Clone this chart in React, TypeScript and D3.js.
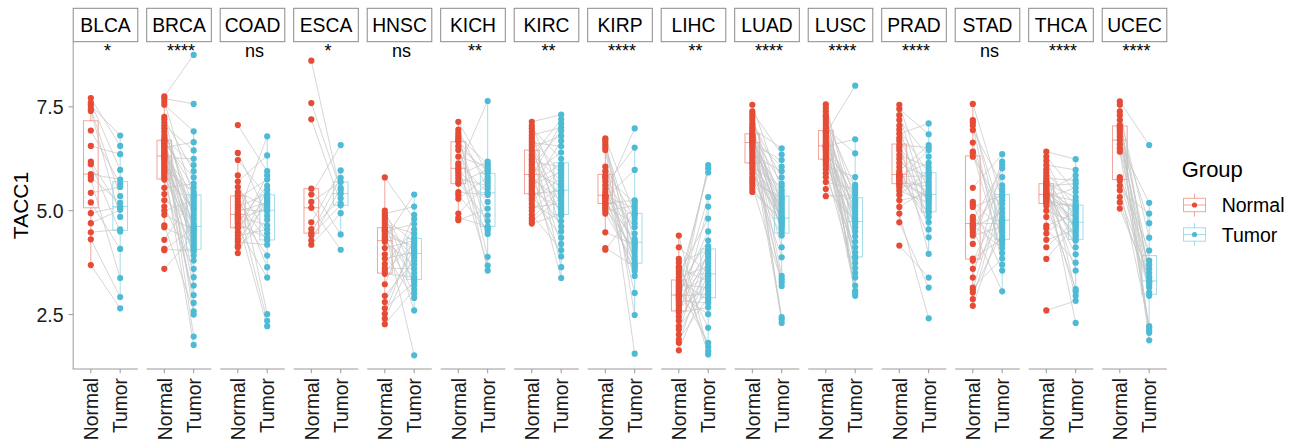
import React from "react";
import * as d3 from "d3";

const cancers = ["BLCA", "BRCA", "COAD", "ESCA", "HNSC", "KICH", "KIRC", "KIRP", "LIHC", "LUAD", "LUSC", "PRAD", "STAD", "THCA", "UCEC"];
const significance = ["*", "****", "ns", "*", "ns", "**", "**", "****", "**", "****", "****", "****", "ns", "****", "****"];
const groups = ["Normal", "Tumor"];
const yTicks = [2.5, 5.0, 7.5];
const yTickLabels = ["2.5", "5.0", "7.5"];
const yLabel = "TACC1";
const legendTitle = "Group";

// paired values: normal[i] is linked to tumor[i]
const blcaNormal = [7.71, 7.60, 7.54, 7.45, 7.40, 6.93, 6.56, 6.18, 6.12, 5.88, 5.81, 5.75, 5.43, 5.20, 4.94, 4.70, 4.48, 4.31, 3.69];
const blcaTumor = [6.56, 5.98, 6.81, 5.35, 4.85, 5.65, 6.36, 5.05, 4.50, 5.75, 5.19, 3.38, 5.57, 4.08, 5.10, 5.02, 4.55, 2.92, 2.65];

const brcaNormal = [7.75, 7.70, 7.62, 7.55, 7.26, 7.20, 7.12, 7.05, 6.98, 6.90, 6.82, 6.75, 6.70, 6.68, 6.66, 6.64, 6.61, 6.58, 6.55, 6.52, 6.48, 6.44, 6.40, 6.36, 6.33, 6.30, 6.28, 6.24, 6.20, 6.15, 6.10, 6.05, 6.00, 5.95, 5.90, 5.85, 5.80, 5.75, 5.55, 5.40, 5.25, 5.10, 5.00, 4.90, 4.65, 4.60, 4.30, 4.08, 4.05, 3.60];
const brcaTumor = [8.75, 7.57, 5.30, 6.91, 4.50, 5.95, 3.80, 6.45, 4.85, 5.12, 2.50, 6.10, 4.20, 5.55, 1.97, 4.64, 5.80, 3.40, 4.35, 6.65, 4.06, 5.00, 2.78, 4.92, 5.39, 4.15, 6.25, 3.20, 4.58, 5.18, 4.70, 1.77, 5.45, 4.30, 3.92, 5.06, 4.45, 2.97, 5.65, 4.10, 4.78, 3.60, 5.24, 4.54, 2.58, 4.25, 5.35, 4.02, 4.60, 4.40];

const coadNormal = [7.06, 6.39, 6.22, 5.85, 5.70, 5.57, 5.45, 5.37, 5.30, 5.22, 5.15, 5.09, 5.04, 4.98, 4.93, 4.89, 4.86, 4.82, 4.78, 4.72, 4.68, 4.62, 4.58, 4.48, 4.40, 4.32, 4.25, 4.16, 4.12, 3.98];
const coadTumor = [5.95, 4.88, 5.33, 2.51, 6.33, 4.45, 5.10, 3.64, 5.75, 4.28, 2.35, 5.40, 4.98, 5.20, 3.92, 6.79, 4.65, 5.04, 2.22, 5.60, 4.35, 5.25, 3.39, 5.85, 4.55, 5.15, 4.18, 5.50, 4.78, 5.30];

const escaNormal = [8.61, 7.59, 7.20, 5.53, 5.39, 5.21, 5.07, 4.72, 4.56, 4.46, 4.40, 4.28, 4.18];
const escaTumor = [5.41, 5.50, 5.17, 4.43, 6.58, 5.69, 4.06, 5.97, 5.30, 5.79, 5.13, 5.55, 4.94];

const hnscNormal = [5.80, 5.00, 4.93, 4.88, 4.82, 4.75, 4.68, 4.60, 4.56, 4.53, 4.50, 4.45, 4.40, 4.35, 4.31, 4.25, 4.10, 3.95, 3.85, 3.72, 3.62, 3.55, 3.48, 3.23, 2.95, 2.80, 2.65, 2.52, 2.40, 2.27];
const hnscTumor = [4.80, 3.50, 5.10, 3.20, 4.24, 2.60, 4.45, 3.88, 4.05, 1.52, 4.68, 3.33, 4.15, 3.00, 5.39, 3.70, 4.28, 2.90, 4.00, 4.55, 3.60, 4.20, 3.40, 4.90, 3.80, 4.10, 3.28, 4.35, 3.94, 3.10];

const kichNormal = [7.14, 6.95, 6.87, 6.80, 6.75, 6.70, 6.66, 6.55, 6.46, 6.30, 6.14, 6.08, 6.02, 5.98, 5.92, 5.85, 5.78, 5.70, 5.65, 5.45, 5.38, 5.29, 4.93, 4.83, 4.77];
const kichTumor = [5.90, 5.53, 3.89, 6.12, 4.58, 5.75, 3.56, 5.95, 4.89, 6.06, 5.43, 3.68, 7.64, 5.21, 4.44, 6.18, 5.60, 4.75, 6.00, 5.38, 4.52, 5.81, 5.68, 4.62, 5.05];

const kircNormal = [7.14, 7.05, 6.98, 6.90, 6.82, 6.76, 6.70, 6.64, 6.58, 6.52, 6.44, 6.36, 6.30, 6.24, 6.18, 6.12, 6.06, 6.00, 5.95, 5.89, 5.85, 5.82, 5.77, 5.72, 5.67, 5.62, 5.57, 5.52, 5.47, 5.42, 5.37, 5.30, 5.24, 5.16, 5.08, 5.00, 4.90, 4.82, 4.75, 4.69];
const kircTumor = [7.31, 5.43, 6.25, 4.50, 7.00, 5.87, 3.64, 6.55, 5.12, 6.80, 4.88, 5.72, 7.20, 4.20, 6.06, 5.38, 6.92, 3.38, 5.58, 6.40, 4.98, 7.10, 5.25, 4.62, 6.12, 5.94, 3.90, 6.68, 5.05, 5.47, 4.35, 6.00, 5.80, 4.75, 5.18, 5.65, 4.05, 5.51, 5.32, 4.92];

const kirpNormal = [6.74, 6.70, 6.64, 6.58, 6.52, 6.46, 6.06, 5.95, 5.85, 5.81, 5.78, 5.70, 5.61, 5.52, 5.45, 5.38, 5.36, 5.35, 5.34, 5.32, 5.30, 5.26, 5.22, 5.18, 5.15, 5.10, 5.06, 5.00, 4.93, 4.48, 4.10, 4.06];
const kirpTumor = [4.92, 2.49, 3.70, 4.26, 1.56, 3.98, 4.80, 3.02, 4.45, 5.20, 3.62, 4.12, 6.52, 3.82, 4.60, 6.98, 4.22, 5.05, 3.43, 4.88, 5.98, 3.90, 4.32, 5.25, 3.55, 4.70, 4.05, 5.12, 3.75, 4.18, 3.66, 4.98];

const lihcNormal = [4.40, 4.12, 3.84, 3.75, 3.65, 3.62, 3.55, 3.48, 3.40, 3.31, 3.27, 3.22, 3.18, 3.14, 3.10, 3.06, 3.02, 2.98, 2.96, 2.94, 2.91, 2.87, 2.83, 2.78, 2.72, 2.65, 2.60, 2.55, 2.45, 2.35, 2.22, 2.14, 2.02, 1.90, 1.82, 1.64];
const lihcTumor = [1.62, 3.50, 1.54, 4.06, 2.18, 3.30, 1.72, 4.81, 3.66, 2.86, 5.92, 3.15, 4.28, 1.82, 3.90, 6.02, 3.42, 2.51, 4.50, 3.00, 5.33, 3.74, 2.78, 4.14, 6.10, 3.22, 3.96, 2.67, 5.10, 3.58, 3.08, 4.02, 3.46, 2.92, 3.82, 3.36];

const luadNormal = [7.55, 7.39, 7.32, 7.25, 7.18, 7.10, 7.04, 6.98, 6.93, 6.88, 6.84, 6.82, 6.80, 6.78, 6.76, 6.74, 6.72, 6.70, 6.68, 6.65, 6.63, 6.60, 6.56, 6.51, 6.46, 6.40, 6.34, 6.28, 6.22, 6.16, 6.12, 6.05, 5.98, 5.90, 5.81, 5.75, 5.68, 5.60, 5.52, 5.45];
const luadTumor = [5.49, 6.35, 4.60, 5.12, 2.30, 5.80, 4.75, 6.50, 3.43, 5.00, 4.48, 5.65, 2.44, 4.88, 6.06, 4.68, 5.29, 3.19, 4.94, 5.41, 4.12, 6.22, 4.78, 5.24, 2.38, 4.55, 5.95, 4.81, 3.35, 5.06, 4.64, 5.58, 3.88, 4.83, 5.18, 4.40, 5.33, 3.28, 4.72, 4.80];

const luscNormal = [7.56, 7.48, 7.39, 7.30, 7.25, 7.18, 7.12, 7.05, 6.98, 6.91, 6.88, 6.85, 6.80, 6.75, 6.70, 6.65, 6.60, 6.57, 6.55, 6.53, 6.51, 6.48, 6.44, 6.40, 6.35, 6.30, 6.25, 6.21, 6.15, 6.08, 6.00, 5.90, 5.81, 5.69, 5.52, 5.35];
const luscTumor = [4.72, 3.62, 5.24, 2.95, 4.50, 5.57, 3.07, 4.90, 6.38, 3.90, 5.12, 8.01, 4.25, 3.20, 5.45, 4.68, 3.74, 5.29, 6.72, 4.00, 3.02, 5.05, 4.82, 3.50, 5.62, 4.38, 3.85, 5.18, 4.60, 5.81, 3.39, 4.98, 4.12, 5.52, 4.76, 5.38];

const pradNormal = [7.55, 7.45, 7.30, 7.18, 7.05, 6.95, 6.85, 6.75, 6.68, 6.58, 6.52, 6.45, 6.34, 6.25, 6.15, 6.05, 5.95, 5.88, 5.86, 5.85, 5.84, 5.82, 5.80, 5.77, 5.74, 5.70, 5.66, 5.62, 5.56, 5.48, 5.38, 5.25, 5.09, 4.93, 4.72, 4.16];
const pradTumor = [5.40, 6.84, 5.05, 6.30, 4.55, 5.90, 7.10, 5.24, 3.96, 6.52, 5.64, 4.85, 6.05, 5.32, 5.78, 4.36, 6.58, 5.12, 5.46, 6.15, 4.72, 5.84, 5.28, 6.46, 4.98, 5.58, 5.35, 4.95, 5.70, 5.18, 5.96, 5.38, 5.52, 2.41, 3.15, 3.39];

const stadNormal = [7.57, 7.18, 7.12, 7.05, 6.94, 6.64, 6.42, 6.38, 6.30, 5.55, 5.21, 5.15, 5.09, 4.85, 4.78, 4.71, 4.67, 4.64, 4.60, 4.55, 4.48, 4.40, 4.20, 3.85, 3.80, 3.60, 3.39, 3.15, 3.10, 3.03, 2.87, 2.71];
const stadTumor = [5.25, 4.40, 4.85, 3.70, 5.61, 4.28, 4.72, 3.98, 5.05, 6.36, 4.55, 3.56, 5.37, 4.20, 6.02, 4.68, 5.45, 4.10, 4.95, 3.06, 5.81, 4.62, 6.18, 4.32, 5.17, 4.78, 6.10, 3.85, 5.52, 4.48, 5.32, 4.76];

const thcaNormal = [6.42, 6.30, 6.20, 6.10, 6.00, 5.92, 5.85, 5.78, 5.72, 5.68, 5.64, 5.62, 5.60, 5.57, 5.54, 5.51, 5.48, 5.45, 5.42, 5.40, 5.38, 5.37, 5.36, 5.34, 5.32, 5.30, 5.28, 5.25, 5.22, 5.19, 5.12, 5.00, 4.85, 4.64, 4.58, 4.45, 4.30, 4.12, 3.84, 2.60];
const thcaTumor = [6.24, 5.45, 4.73, 5.98, 3.05, 5.12, 4.50, 5.73, 2.30, 4.88, 5.33, 4.12, 5.65, 4.60, 3.56, 5.02, 4.69, 5.85, 4.32, 4.98, 2.95, 5.25, 4.64, 4.38, 5.55, 3.95, 4.83, 5.09, 4.44, 3.11, 5.17, 4.71, 4.28, 4.93, 3.75, 5.06, 4.55, 4.78, 4.67, 2.83];

const ucecNormal = [7.63, 7.55, 7.39, 7.30, 7.18, 7.06, 7.02, 6.98, 6.92, 6.85, 6.78, 6.70, 6.60, 6.50, 6.42, 5.81, 5.78, 5.72, 5.60, 5.49, 5.33, 5.20, 5.05];
const ucecTumor = [6.58, 3.31, 2.06, 4.35, 3.50, 1.88, 3.80, 2.95, 4.70, 3.22, 2.18, 3.60, 5.19, 3.03, 2.12, 3.70, 4.04, 3.27, 2.22, 4.93, 3.40, 3.15, 3.29];

const normalSets = [blcaNormal, brcaNormal, coadNormal, escaNormal, hnscNormal, kichNormal, kircNormal, kirpNormal, lihcNormal, luadNormal, luscNormal, pradNormal, stadNormal, thcaNormal, ucecNormal];
const tumorSets = [blcaTumor, brcaTumor, coadTumor, escaTumor, hnscTumor, kichTumor, kircTumor, kirpTumor, lihcTumor, luadTumor, luscTumor, pradTumor, stadTumor, thcaTumor, ucecTumor];

const palette: Record<string, string> = { Normal: "#E64B35", Tumor: "#4DBBD5" };
const FONT = "'Liberation Sans', Arial, Helvetica, sans-serif";
const AXIS_COLOR = "#9a9a9a";

function boxStats(values: number[]) {
  const s = values.slice().sort(d3.ascending);
  const q1 = d3.quantileSorted(s, 0.25) as number;
  const med = d3.quantileSorted(s, 0.5) as number;
  const q3 = d3.quantileSorted(s, 0.75) as number;
  const iqr = q3 - q1;
  const lo = d3.min(s.filter((v) => v >= q1 - 1.5 * iqr)) as number;
  const hi = d3.max(s.filter((v) => v <= q3 + 1.5 * iqr)) as number;
  return { q1, med, q3, lo, hi };
}

export default function App() {
  const W = 1299;
  const H = 444;
  const top = 42;
  const bottom = 369;
  const panelX = d3.scaleBand<string>().domain(cancers).range([73.2, 1166.8]).paddingInner(0.121).paddingOuter(0);
  const bw = panelX.bandwidth();
  const y = d3.scaleLinear().domain([1.19, 9.06]).range([bottom, top]);
  const inner = d3.scaleLinear().domain([0.4, 2.6]).range([0, bw]);
  const boxHalf = inner(1.25) - inner(1);
  const r = 3.1;

  return (
    <div style={{ position: "absolute", left: 0, top: 0, width: W, height: H, overflow: "hidden", background: "#fff" }}>
      <svg width={W} height={H} style={{ display: "block", fontFamily: FONT }}>
        <rect x={0} y={0} width={W} height={H} fill="#ffffff" />
        {/* Y axis */}
        <line x1={73.2} x2={73.2} y1={top} y2={bottom} stroke={AXIS_COLOR} strokeWidth={1} />
        {yTicks.map((t, i) => (
          <g key={"yt" + i}>
            <line x1={68.6} x2={73.2} y1={y(t)} y2={y(t)} stroke={AXIS_COLOR} strokeWidth={1} />
            <text x={63.5} y={y(t)} dy="0.36em" textAnchor="end" fontSize={19.5} fill="#1a1a1a">
              {yTickLabels[i]}
            </text>
          </g>
        ))}
        <text transform={`translate(28, ${(top + bottom) / 2}) rotate(-90)`} textAnchor="middle" fontSize={21} fill="#000">
          {yLabel}
        </text>

        {cancers.map((c, ci) => {
          const x0 = panelX(c) as number;
          const xs = [x0 + inner(1), x0 + inner(2)];
          const nVals = normalSets[ci];
          const tVals = tumorSets[ci];
          const sets = [nVals, tVals];
          return (
            <g key={c}>
              {/* strip */}
              <rect x={x0} y={8.3} width={bw} height={33.4} fill="#ffffff" stroke="#8a8a8a" strokeWidth={1} />
              <text x={x0 + bw / 2} y={31.8} textAnchor="middle" fontSize={19.3} fill="#000">
                {c}
              </text>
              {/* significance */}
              <text x={x0 + bw / 2 + 2} y={56.5} textAnchor="middle" fontSize={18} fill="#000">
                {significance[ci]}
              </text>
              {/* x axis */}
              <line x1={ci === 0 ? x0 - 0.5 : x0} x2={x0 + bw} y1={bottom} y2={bottom} stroke={AXIS_COLOR} strokeWidth={1} />
              {groups.map((g, gi) => (
                <g key={g}>
                  <line x1={xs[gi]} x2={xs[gi]} y1={bottom} y2={bottom + 4.2} stroke={AXIS_COLOR} strokeWidth={1} />
                  <text
                    transform={`translate(${xs[gi] + 7.2}, ${bottom + 9}) rotate(-90)`}
                    textAnchor="end"
                    fontSize={19.3}
                    fill="#1a1a1a"
                  >
                    {g}
                  </text>
                </g>
              ))}
              {/* boxes */}
              {groups.map((g, gi) => {
                const st = boxStats(sets[gi]);
                const cx = xs[gi];
                return (
                  <g key={"b" + g} stroke={palette[g]} strokeOpacity={0.5} fill="none" strokeWidth={1}>
                    <line x1={cx} x2={cx} y1={y(st.q3)} y2={y(st.hi)} />
                    <line x1={cx} x2={cx} y1={y(st.q1)} y2={y(st.lo)} />
                    <rect x={cx - boxHalf} y={y(st.q3)} width={boxHalf * 2} height={y(st.q1) - y(st.q3)} />
                    <line x1={cx - boxHalf} x2={cx + boxHalf} y1={y(st.med)} y2={y(st.med)} />
                  </g>
                );
              })}
              {/* paired lines */}
              <g stroke="#c4c4c4" strokeWidth={0.7} fill="none">
                {nVals.map((v, i) => (
                  <line key={"l" + i} x1={xs[0]} y1={y(v)} x2={xs[1]} y2={y(tVals[i])} />
                ))}
              </g>
              {/* points */}
              {groups.map((g, gi) => (
                <g key={"p" + g} fill={palette[g]}>
                  {sets[gi].map((v, i) => (
                    <circle key={i} cx={xs[gi]} cy={y(v)} r={r} />
                  ))}
                </g>
              ))}
            </g>
          );
        })}

        {/* legend */}
        <text x={1181.7} y={177.3} fontSize={22} fill="#000">
          {legendTitle}
        </text>
        {groups.map((g, gi) => {
          const cy = 205 + gi * 29.5;
          const cx = 1194.5;
          return (
            <g key={"lg" + g}>
              <g stroke={palette[g]} strokeOpacity={0.5} fill="none" strokeWidth={1}>
                <line x1={cx} x2={cx} y1={cy - 11.5} y2={cy + 11.5} />
                <rect x={cx - 11} y={cy - 6.7} width={22} height={13.4} fill="#fff" />
                <line x1={cx - 11} x2={cx + 11} y1={cy} y2={cy} />
              </g>
              <circle cx={cx} cy={cy} r={2.6} fill={palette[g]} />
              <text x={1221.7} y={cy + 7.3} fontSize={19.5} fill="#000">
                {g}
              </text>
            </g>
          );
        })}
      </svg>
    </div>
  );
}
